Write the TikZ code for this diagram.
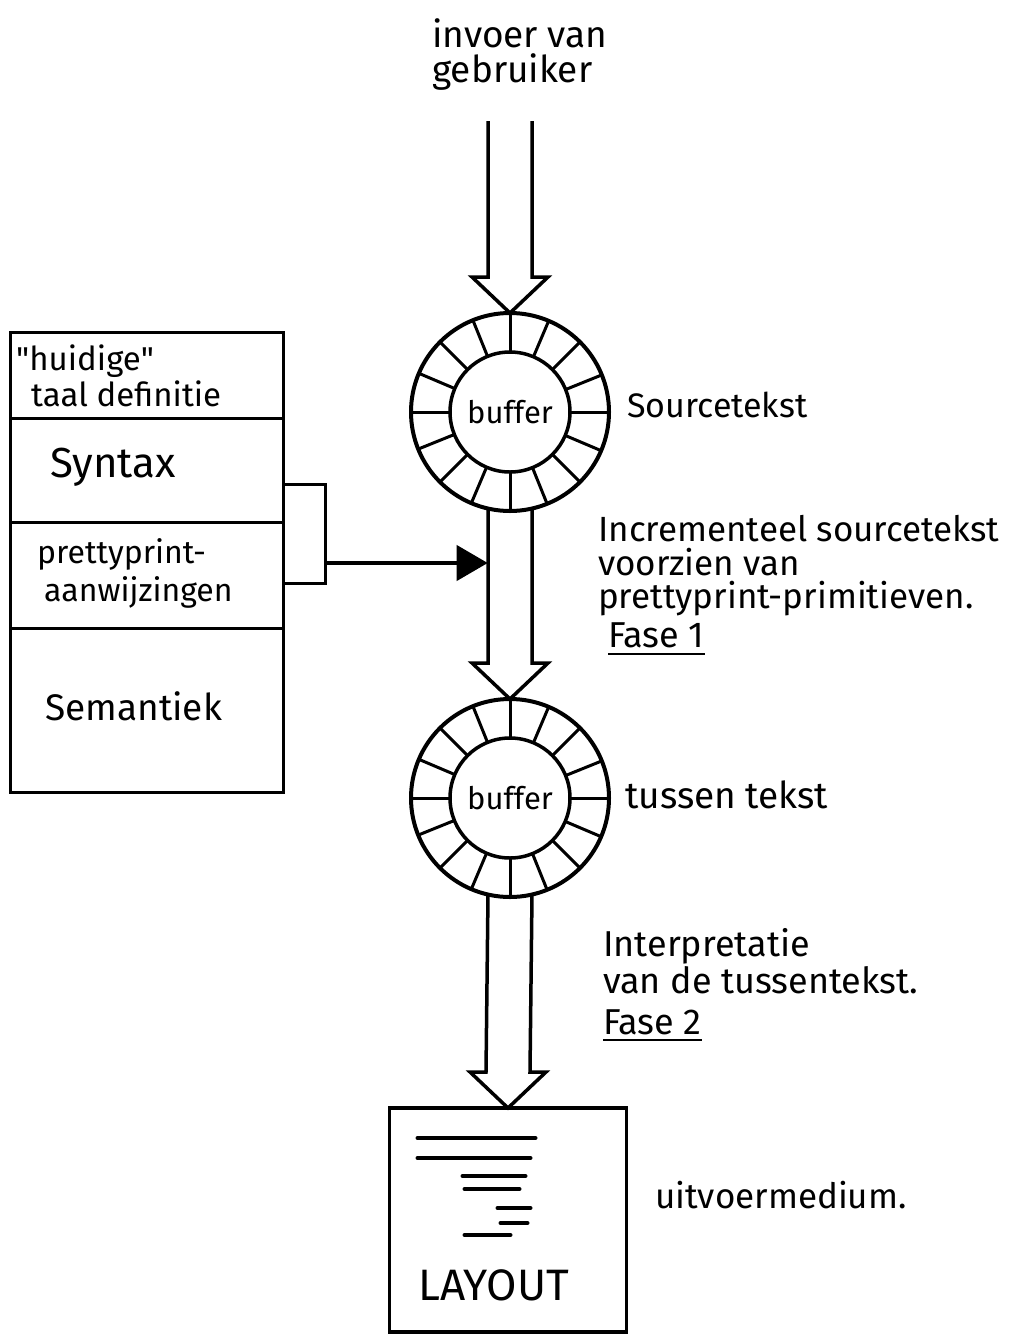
\documentclass[tikz,border=0pt]{standalone}
\usepackage{fontspec}
\setmainfont{Fira Sans}
\usetikzlibrary{positioning, calc, arrows.meta}

% hollow wide arrow: #1 start of the shaft, #2 tip
\newcommand\fatarrow[2]{%
  \draw[shaft] ($(#1)+(-22,-2)$) -- ($(#2)+(-22,-36)$) -- ($(#2)+(-38,-36)$) -- (#2)
    -- ($(#2)+(38,-36)$) -- ($(#2)+(22,-36)$) -- ($(#1)+(22,-2)$);
}

% ring buffer with 16 slots
\newcommand\bufring[2]{%
  \node[ring] (#1) at (#2) {};
  \node[hub] (#1hub) at (#1) {buffer};
  \foreach \a in {0,22.5,...,337.5} \draw[spoke] (#1hub.\a) -- (#1.\a);
}

\begin{document}
\begin{tikzpicture}[x=1pt, y=-1pt,
  ring/.style={circle, draw, line width=4pt, minimum size=198pt, inner sep=0pt, outer sep=0pt},
  hub/.style={circle, draw, line width=3.5pt, minimum size=120pt, inner sep=0pt, outer sep=0pt,
    font=\fontsize{31}{32}\selectfont},
  spoke/.style={line width=3pt},
  shaft/.style={line width=3.5pt, line join=miter},
  cell/.style={draw, line width=3pt, minimum width=273pt, outer sep=0pt, inner sep=0pt},
  celltxt/.style={anchor=west, inner sep=0pt, align=left, font=\fontsize{33}{36}\selectfont},
  note/.style={anchor=west, inner sep=0pt, align=left, font=\fontsize{34}{34}\selectfont},
  uline/.style={line width=2.5pt},
  link/.style={line width=3pt},
  feed/.style={line width=4pt, -{Triangle[length=31pt, width=35pt]}},
  scrib/.style={line width=4pt, line cap=round}]

\useasboundingbox (0,0) rectangle (1009,1334);

% user input
\node[note, font=\fontsize{37}{35}\selectfont] (user) at (432,55) {invoer van\\gebruiker};
\coordinate (usertop) at (510,123);

% buffers
\bufring{buf1}{510,412}
\bufring{buf2}{510,798}

% output medium
\node[draw, line width=3.5pt, minimum width=237pt, minimum height=224pt, outer sep=0pt] (layout) at (508,1220) {};
\foreach \xa/\xb/\yy in {28/146/30, 28/141/50, 73/136/68, 75/130/81, 108/141/100, 111/138/115, 75/121/127}
  \draw[scrib] ($(layout.north west)+(\xa,\yy)$) -- ($(layout.north west)+(\xb,\yy)$);
\node[inner sep=0pt, font=\fontsize{44}{46}\selectfont] (layouttxt) at ($(layout.south)+(-14,-47)$) {LAYOUT};

% wide arrows
\fatarrow{usertop}{buf1.north}
\fatarrow{buf1.south}{buf2.north}
\fatarrow{buf2.south}{layout.north}

% language definition
\node[cell, minimum height=86pt, anchor=north] (head) at (146.5,332) {};
\node[cell, minimum height=104pt, below=0pt of head] (syn) {};
\node[cell, minimum height=106pt, below=0pt of syn] (pp) {};
\node[cell, minimum height=164pt, below=0pt of pp] (sem) {};

\node[celltxt] (headtxt) at ($(head.west)+(6,1)$) {\textquotedbl huidige\textquotedbl\\\hspace*{15pt}taal definitie};
\node[celltxt, font=\fontsize{42}{44}\selectfont] (syntxt) at ($(syn.west)+(40,-3)$) {Syntax};
\node[celltxt, font=\fontsize{32}{38}\selectfont] (pptxt) at ($(pp.west)+(27,-2)$) {prettyprint-\\\hspace*{7pt}aanwijzingen};
\node[celltxt, font=\fontsize{37}{38}\selectfont] (semtxt) at ($(sem.west)+(35,-4)$) {Semantiek};

% bracket and feed into phase 1
\coordinate (brk) at ($(pp.east)+(42,-12)$);
\draw[link] ($(syn.east)+(0,14)$) -- ++(42,0) |- ($(pp.east)+(0,8)$);
\draw[feed] (brk) -- (brk -| buf1.-103);

% labels
\node[note] (srctxt) at (627,405) {Sourcetekst};
\node[note, font=\fontsize{35}{33.5}\selectfont] (fase1txt) at (598,566) {Incrementeel sourcetekst\\voorzien van\\prettyprint-primitieven.};
\node[note, font=\fontsize{36}{36}\selectfont, anchor=south west] (fase1) at (608,648) {Fase 1};
\draw[uline] ($(fase1.south west)+(0,6)$) -- ($(fase1.south east)+(0,6)$);

\node[note, font=\fontsize{37}{38}\selectfont] (tustxt) at (625,795) {tussen tekst};
\node[note, font=\fontsize{36}{37}\selectfont] (fase2txt) at (603,961) {Interpretatie\\van de tussentekst.};
\node[note, font=\fontsize{36}{36}\selectfont, anchor=south west] (fase2) at (603,1035) {Fase 2};
\draw[uline] ($(fase2.south west)+(0,5)$) -- ($(fase2.south east)+(0,5)$);

\node[note, font=\fontsize{35}{36}\selectfont] (outtxt) at (655,1195) {uitvoermedium.};

\end{tikzpicture}
\end{document}
